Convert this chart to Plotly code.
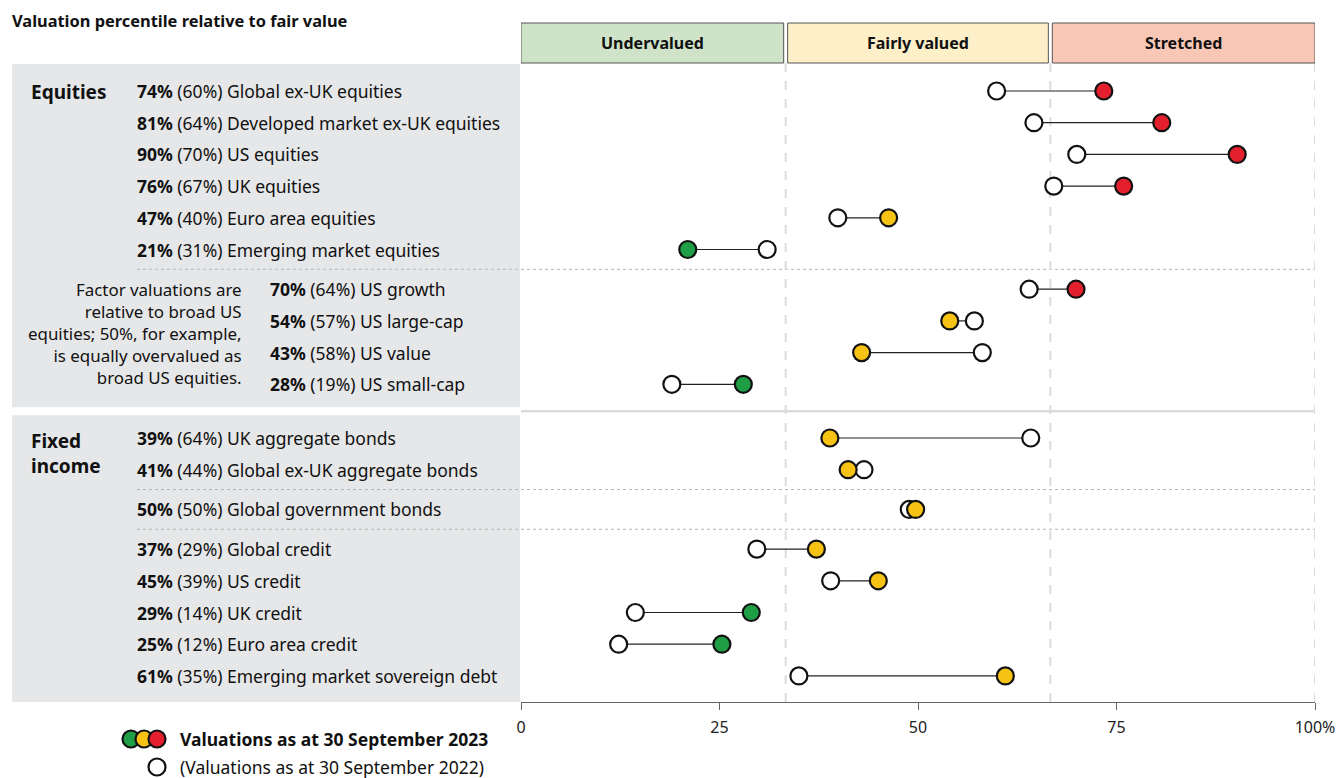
import plotly.graph_objects as go

# ---------------- data ----------------
chart_title = "Valuation percentile relative to fair value"
names = [
    "Global ex-UK equities", "Developed market ex-UK equities", "US equities",
    "UK equities", "Euro area equities", "Emerging market equities",
    "US growth", "US large-cap", "US value", "US small-cap",
    "UK aggregate bonds", "Global ex-UK aggregate bonds",
    "Global government bonds",
    "Global credit", "US credit", "UK credit", "Euro area credit",
    "Emerging market sovereign debt",
]
groups = ["eq"] * 6 + ["fac"] * 4 + ["fi1"] * 2 + ["fi2"] + ["fi3"] * 5
label_2023 = [74, 81, 90, 76, 47, 21, 70, 54, 43, 28, 39, 41, 50, 37, 45, 29, 25, 61]
label_2022 = [60, 64, 70, 67, 40, 31, 64, 57, 58, 19, 64, 44, 50, 29, 39, 14, 12, 35]
val_2023 = [73.4, 80.7, 90.2, 75.9, 46.3, 21.0, 69.9, 54.0, 42.9, 28.0,
            38.9, 41.2, 49.7, 37.2, 45.0, 29.0, 25.3, 61.0]
val_2022 = [59.9, 64.6, 70.0, 67.1, 39.9, 31.0, 64.0, 57.1, 58.1, 19.0,
            64.2, 43.2, 48.9, 29.7, 39.0, 14.4, 12.3, 35.0]
zones = ["Undervalued", "Fairly valued", "Stretched"]
tick_vals = [0, 25, 50, 75, 100]
tick_text = ["0", "25", "50", "75", "100%"]
note_lines = ["Factor valuations are", "relative to broad US",
              "equities; 50%, for example,", "is equally overvalued as",
              "broad US equities."]
legend_2023 = "Valuations as at 30 September 2023"
legend_2022 = "(Valuations as at 30 September 2022)"

# ---------------- layout constants ----------------
W, H = 1341, 778
L, R, T, B = 521, 26, 63, 76
PW, PH = W - L - R, H - T - B
FONT = "Noto Sans"
GREEN, YELLOW, RED = "#1f9e45", "#f6c213", "#e5202e"
ZONE_FILL = ["#cfe3c9", "#fdefc7", "#f9c7b6"]
PANEL = "#e6e7e8"
TXT = 17.5


def px_x(px):
    return (px - L) / PW


def px_y(py):
    return (T + PH - py) / PH


def zone_color(v):
    if v < 100 / 3:
        return GREEN
    if v < 200 / 3:
        return YELLOW
    return RED


# row positions (y axis is in pixel units, reversed)
step = 31.7
extra = {("eq", "fac"): 8, ("fac", "fi1"): 22, ("fi1", "fi2"): 8, ("fi2", "fi3"): 8}
ys = []
y = 91.0
for i, g in enumerate(groups):
    if i > 0:
        y += step + extra.get((groups[i - 1], g), 0)
    ys.append(y)

fig = go.Figure()

# connecting lines
lx, ly = [], []
for a, b, yy in zip(val_2022, val_2023, ys):
    lx += [a, b, None]
    ly += [yy, yy, None]
fig.add_trace(go.Scatter(x=lx, y=ly, mode="lines", line=dict(color="#222", width=1.2),
                         hoverinfo="skip", showlegend=False))
fig.add_trace(go.Scatter(x=val_2022, y=ys, mode="markers",
                         marker=dict(size=17, color="white", line=dict(color="#111", width=2.2)),
                         showlegend=False))
fig.add_trace(go.Scatter(x=val_2023, y=ys, mode="markers",
                         marker=dict(size=17, color=[zone_color(v) for v in val_2023],
                                     line=dict(color="#111", width=2.2)),
                         showlegend=False))

shapes = []
ann = []

# grey panels on the left
break_y = None
for i in range(1, len(groups)):
    if (groups[i - 1], groups[i]) == ("fac", "fi1"):
        break_y = (ys[i - 1] + ys[i]) / 2
shapes.append(dict(type="rect", xref="paper", yref="paper", x0=px_x(12), x1=px_x(520),
                   y0=px_y(64), y1=px_y(break_y - 4), fillcolor=PANEL, line_width=0, layer="below"))
shapes.append(dict(type="rect", xref="paper", yref="paper", x0=px_x(12), x1=px_x(520),
                   y0=px_y(break_y + 4), y1=px_y(702), fillcolor=PANEL, line_width=0, layer="below"))
# solid separator across the plot
shapes.append(dict(type="line", xref="paper", yref="y", x0=0, x1=1, y0=break_y, y1=break_y,
                   line=dict(color="#d4d4d4", width=2), layer="below"))
# dotted separators between sub-groups
for i in range(1, len(groups)):
    pair = (groups[i - 1], groups[i])
    if pair[0] != pair[1] and pair != ("fac", "fi1"):
        ym = (ys[i - 1] + ys[i]) / 2
        shapes.append(dict(type="line", xref="paper", yref="y", x0=px_x(137), x1=1, y0=ym, y1=ym,
                           line=dict(color="#b5b5b5", width=1, dash="dot"), layer="below"))

# vertical dashed zone boundaries
for xv in [100 / 3, 200 / 3, 100]:
    shapes.append(dict(type="line", xref="x", yref="paper", x0=xv, x1=xv, y0=0, y1=1,
                       line=dict(color="#dcdcdc", width=2, dash="dash"), layer="below"))

# zone header bands
gap = 0.25
for k, (zname, zfill) in enumerate(zip(zones, ZONE_FILL)):
    x0 = k * 100 / 3 + (gap if k > 0 else 0)
    x1 = (k + 1) * 100 / 3 - (gap if k < 2 else 0)
    shapes.append(dict(type="rect", xref="x", yref="paper", x0=x0, x1=x1,
                       y0=px_y(63), y1=px_y(23), fillcolor=zfill,
                       line=dict(color="#555", width=1)))
    ann.append(dict(xref="x", yref="paper", x=(x0 + x1) / 2, y=px_y(43), text=f"<b>{zname}</b>",
                    showarrow=False, font=dict(family=FONT, size=16, color="#111"),
                    xanchor="center", yanchor="middle"))

# title
ann.append(dict(xref="paper", yref="paper", x=px_x(10), y=px_y(21), text=f"<b>{chart_title}</b>",
                showarrow=False, xanchor="left", yanchor="middle",
                font=dict(family=FONT, size=16.4, color="#111")))

# row labels
for nm, g, a, b, yy in zip(names, groups, label_2023, label_2022, ys):
    xs = 268 if g == "fac" else 135
    ann.append(dict(xref="paper", yref="y", x=px_x(xs), y=yy,
                    text=f"<b>{a}%</b> ({b}%) {nm}", showarrow=False,
                    xanchor="left", yanchor="middle",
                    font=dict(family=FONT, size=TXT, color="#111")))

# group headings
ann.append(dict(xref="paper", yref="y", x=px_x(29), y=ys[0] + 1, text="<b>Equities</b>",
                showarrow=False, xanchor="left", yanchor="middle",
                font=dict(family=FONT, size=19, color="#111")))
fi0 = groups.index("fi1")
ann.append(dict(xref="paper", yref="y", x=px_x(29), y=(ys[fi0] + ys[fi0 + 1]) / 2,
                text="<b>Fixed<br>income</b>",
                showarrow=False, xanchor="left", yanchor="middle", align="left",
                font=dict(family=FONT, size=19, color="#111")))

# factor note (single multi-line text)
fac0 = groups.index("fac")
ann.append(dict(xref="paper", yref="y", x=px_x(244), y=ys[fac0] + 2 * 21.9, text="<br>".join(note_lines),
                showarrow=False, xanchor="right", yanchor="middle", align="right",
                font=dict(family=FONT, size=16.9, color="#111")))

# legend
for k, c in enumerate([GREEN, YELLOW, RED]):
    shapes.append(dict(type="circle", xref="paper", yref="paper",
                       xsizemode="pixel", ysizemode="pixel",
                       xanchor=px_x(131 + 13 * k), yanchor=px_y(739),
                       x0=-8.5, x1=8.5, y0=-8.5, y1=8.5,
                       fillcolor=c, line=dict(color="#111", width=2.2)))
shapes.append(dict(type="circle", xref="paper", yref="paper",
                   xsizemode="pixel", ysizemode="pixel",
                   xanchor=px_x(157), yanchor=px_y(767),
                   x0=-8.5, x1=8.5, y0=-8.5, y1=8.5,
                   fillcolor="white", line=dict(color="#111", width=2.2)))
ann.append(dict(xref="paper", yref="paper", x=px_x(178), y=px_y(739), text=f"<b>{legend_2023}</b>",
                showarrow=False, xanchor="left", yanchor="middle",
                font=dict(family=FONT, size=TXT, color="#111")))
ann.append(dict(xref="paper", yref="paper", x=px_x(178), y=px_y(767), text=legend_2022,
                showarrow=False, xanchor="left", yanchor="middle",
                font=dict(family=FONT, size=TXT, color="#111")))

fig.update_layout(
    width=W, height=H,
    margin=dict(l=L, r=R, t=T, b=B, autoexpand=False),
    paper_bgcolor="white", plot_bgcolor="white",
    shapes=shapes, annotations=ann,
    showlegend=False,
    xaxis=dict(range=[0, 100], tickvals=tick_vals, ticktext=tick_text, automargin=False,
               showgrid=False, zeroline=False, showline=True, linecolor="#666", linewidth=1,
               ticks="outside", ticklen=7, tickcolor="#666", ticklabelstandoff=4,
               tickfont=dict(family=FONT, size=16, color="#222")),
    yaxis=dict(range=[T + PH, T], visible=False, showgrid=False, zeroline=False, automargin=False),
    font=dict(family=FONT),
)

page_fix = (
    "var d=document.documentElement,b=document.body;"
    "[d,b].forEach(function(e){e.style.margin='0';e.style.padding='0';"
    "e.style.overflow='hidden';e.style.width='1341px';e.style.height='778px';});"
)
fig.write_html("out.html", config={"displayModeBar": False}, post_script=page_fix)
